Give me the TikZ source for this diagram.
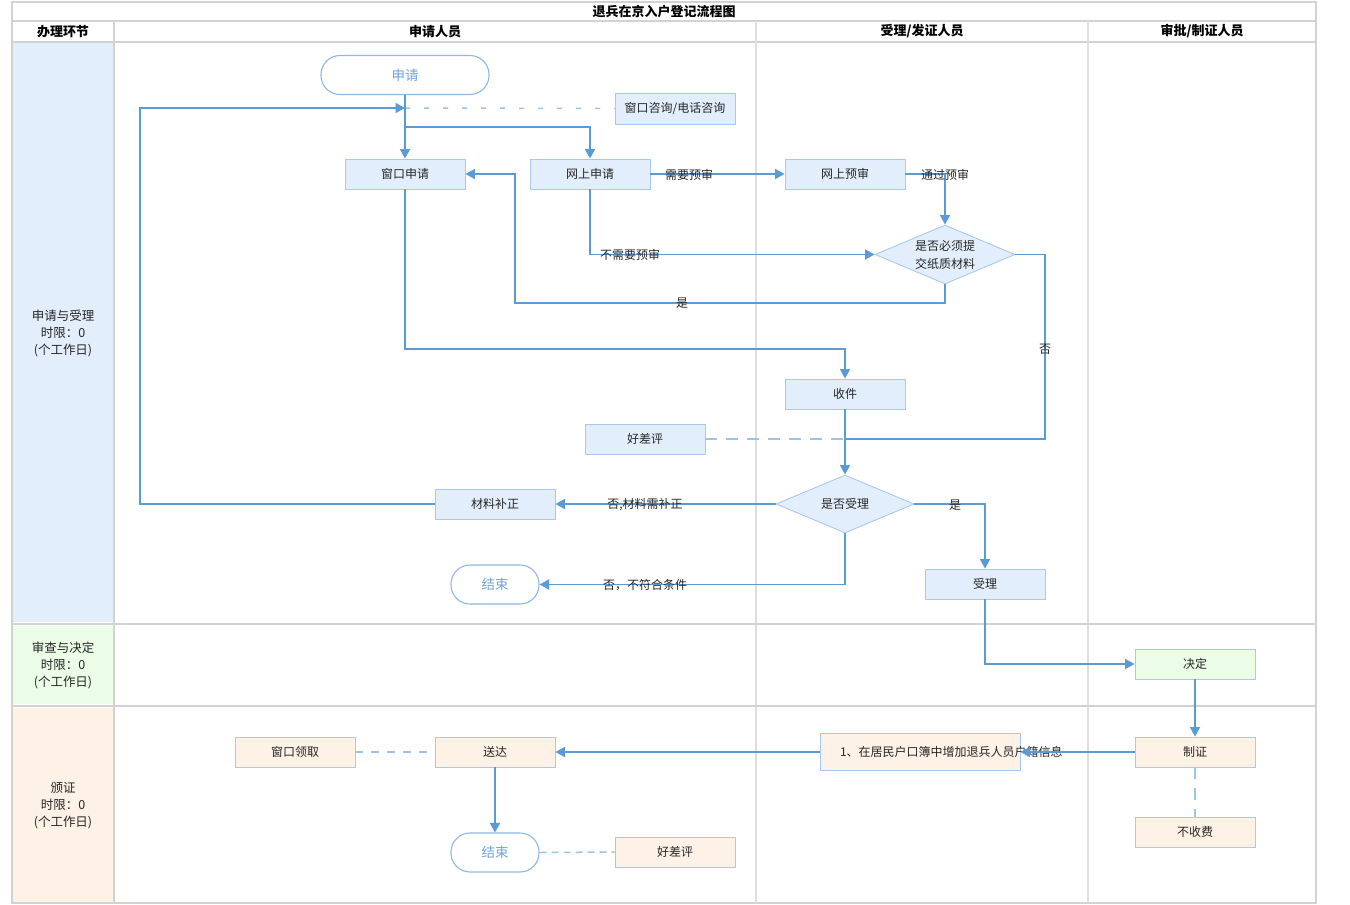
\documentclass[tikz,border=0pt]{standalone}
\usepackage{fontspec}
\setmainfont{Noto Sans CJK SC}
\usetikzlibrary{arrows.meta,shapes.geometric,calc}
\definecolor{boxblue}{HTML}{E3EEFD}
\definecolor{peach}{HTML}{FEF1E6}
\definecolor{greenf}{HTML}{EBFDE6}
\definecolor{bdr}{HTML}{A9C8EE}
\definecolor{flowc}{HTML}{5B9BD5}
\definecolor{dashc}{HTML}{9DC3E6}
\definecolor{termb}{HTML}{8DB8E6}
\definecolor{termt}{HTML}{6FA3DB}
\definecolor{txt}{HTML}{262626}
\definecolor{gridc}{HTML}{D2D2D2}
\definecolor{gridl}{HTML}{DEDEDE}
\tikzset{
  pbox/.style={draw=bdr, fill=boxblue, line width=0.9pt, minimum width=120pt, minimum height=30pt, inner sep=0pt, text=txt},
  term/.style={draw=termb, fill=white, line width=1.1pt, rounded corners=19pt, minimum height=39pt, inner sep=0pt, text=termt, font=\fontsize{13.5}{15}\selectfont},
  dec/.style={diamond, draw=bdr, fill=boxblue, line width=0.9pt, inner sep=0pt, shape aspect=2.4, text=txt, align=center},
  flow/.style={draw=flowc, line width=1.8pt, -{Triangle[length=9.5pt,width=10pt]}},
  flowline/.style={draw=flowc, line width=1.8pt},
  dasha/.style={draw=dashc, line width=1.5pt, dash pattern=on 5pt off 14pt},
  dashb/.style={draw=dashc, line width=1.5pt, dash pattern=on 12pt off 9pt},
  dashc/.style={draw=dashc, line width=1.5pt, dash pattern=on 8pt off 8pt},
  dashd/.style={draw=dashc, line width=1.5pt, dash pattern=on 7pt off 5pt},
  lbl/.style={text=txt, inner sep=0pt},
  hdr/.style={text=black, inner sep=0pt, font=\fontsize{13}{15}\selectfont\bfseries},
  lane/.style={text=txt, inner sep=0pt, align=center, font=\fontsize{12.5}{17}\selectfont},
  gline/.style={draw=gridc, line width=2pt},
  gthin/.style={draw=gridl, line width=1.6pt},
}
\begin{document}
\begin{tikzpicture}[x=1pt,y=-1pt, font=\fontsize{12}{13}\selectfont]
\useasboundingbox (0,0) rectangle (1350,905);
\fill[white] (0,0) rectangle (1350,905);
% lane header fills
\fill[boxblue] (13,43) rectangle (113,622);
\fill[greenf] (13,626) rectangle (113,704);
\fill[peach] (13,708) rectangle (113,902);
% grid
\draw[gline] (12,2) rectangle (1316,903);
\draw[gline] (12,21) -- (1316,21);
\draw[gline] (12,41.5) -- (1316,41.5);
\draw[gline] (114,21) -- (114,903);
\draw[gthin] (756,21) -- (756,903);
\draw[gthin] (1088,21) -- (1088,903);
\draw[gline] (12,623.5) -- (1316,623.5);
\draw[gline] (12,705.5) -- (1316,705.5);
% headers
\node[hdr] (title) at (664,11.5) {退兵在京入户登记流程图};
\node[hdr] (h0) at (63,31.5) {办理环节};
\node[hdr] (h1) at (435,31.5) {申请人员};
\node[hdr] (h2) at (922,31.5) {受理/发证人员};
\node[hdr] (h3) at (1202,31.5) {审批/制证人员};
\node[lane] (l1) at (63,333) {申请与受理\\时限：0\\(个工作日)};
\node[lane] (l2) at (63,665) {审查与决定\\时限：0\\(个工作日)};
\node[lane] (l3) at (63,806) {颁证\\时限：0\\(个工作日)};
% nodes
\node[term, minimum width=168pt] (start) at (405,75) {申请};
\node[pbox, minimum height=31pt] (zx) at (675,108.5) {窗口咨询/电话咨询};
\node[pbox] (wq) at (405,174) {窗口申请};
\node[pbox] (ws) at (590,174) {网上申请};
\node[pbox] (wy) at (845,174) {网上预审};
\node[dec, minimum width=140pt, minimum height=59pt, font=\fontsize{12}{18}\selectfont] (d1) at (945,254.5) {是否必须提\\交纸质材料};
\node[pbox] (sj) at (845,394) {收件};
\node[pbox] (hp1) at (645,439) {好差评};
\node[dec, minimum width=138pt, minimum height=58pt] (d2) at (845,504) {是否受理};
\node[pbox] (bz) at (495,504) {材料补正};
\node[term, minimum width=88pt] (end1) at (495,584.5) {结束};
\node[pbox] (sl) at (985,584) {受理};
\node[pbox, fill=greenf] (jd) at (1195,664) {决定};
\node[pbox, fill=peach] (zz) at (1195,752) {制证};
\node[pbox, fill=peach, minimum width=200pt, minimum height=37pt] (hk) at (920,752) {\makebox[160pt][l]{\raisebox{2pt}{1、在居民户口簿中增加退兵人员户籍信息}}};
\node[pbox, fill=peach] (sd) at (495,752) {送达};
\node[pbox, fill=peach] (ck) at (295,752) {窗口领取};
\node[term, minimum width=88pt] (end2) at (495,852.5) {结束};
\node[pbox, fill=peach] (hp2) at (675,852) {好差评};
\node[pbox, fill=peach] (bsf) at (1195,832) {不收费};
% helper coordinates
\coordinate (j1) at (405,108);
\coordinate (b1) at (405,127);
\coordinate (lp) at (140,504);
\coordinate (lt) at (140,108);
\coordinate (c1) at (515,303);
\coordinate (c2) at (1045,439);
\coordinate (j2) at (845,439);
\coordinate (c3) at (845,349);
% connectors
\draw[dasha] (j1) -- (zx.west);
\draw[flow] (start.south) -- (wq.north);
\draw[flow] (b1) -| (ws.north);
\draw[flow] (bz.west) -- (lp) -- (lt) -- (j1);
\draw[flow] (ws.east) -- (wy.west);
\draw[flow] (wy.east) -| (d1.north);
\draw[flow] (ws.south) |- (d1.west);
\draw[flow] (d1.south) |- (c1) |- (wq.east);
\draw[flowline] (d1.east) -| (c2) -- (j2);
\draw[flow] (wq.south) |- (c3) -- (sj.north);
\draw[flow] (sj.south) -- (d2.north);
\draw[dashb] (hp1.east) -- (j2);
\draw[flow] (d2.west) -- (bz.east);
\draw[flow] (d2.east) -| (sl.north);
\draw[flow] (d2.south) |- (end1.east);
\draw[flow] (sl.south) |- (jd.west);
\draw[flow] (jd.south) -- (zz.north);
\draw[flow] (zz.west) -- (hk.east);
\draw[flow] (hk.west) -- (sd.east);
\draw[dashc] (ck.east) -- (sd.west);
\draw[flow] (sd.south) -- (end2.north);
\draw[dashd] (end2.east) -- (hp2.west);
\draw[dashb] (zz.south) -- (bsf.north);
% labels on connectors
\node[lbl] (t1) at (689,175) {需要预审};
\node[lbl] (t2) at (945,175) {通过预审};
\node[lbl] (t3) at (630,255) {不需要预审};
\node[lbl] (t4) at (682,303.5) {是};
\node[lbl] (t5) at (1045,349) {否};
\node[lbl] (t6) at (645,505) {否,材料需补正};
\node[lbl] (t7) at (955,505) {是};
\node[lbl] (t8) at (645,585) {否，不符合条件};
\end{tikzpicture}
\end{document}
